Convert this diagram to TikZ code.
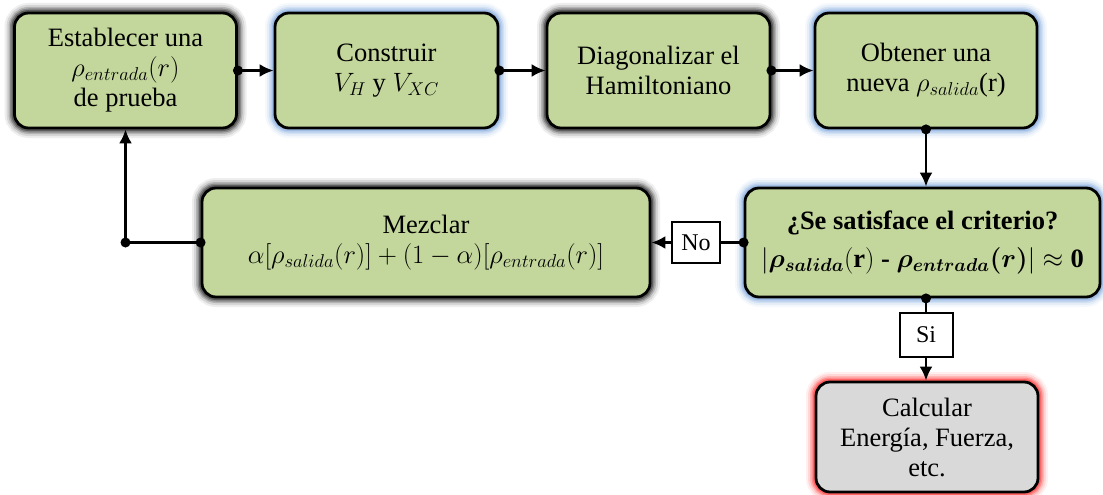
\RequirePackage{fix-cm}
\documentclass[tikz,border=0pt]{standalone}
\usepackage{amsmath}
\usepackage{fontspec}
\setmainfont{Liberation Serif}
\usetikzlibrary{arrows.meta}
\definecolor{boxgreen}{HTML}{C3D69B}
\definecolor{boxgray}{HTML}{D9D9D9}
\definecolor{glowblue}{HTML}{7FA7DC}
\definecolor{glowred}{HTML}{FF3030}
\definecolor{glowdark}{HTML}{282828}
\tikzset{
  glow/.style={
    preaction={draw=#1,line width=20pt,opacity=0.08},
    preaction={draw=#1,line width=16pt,opacity=0.12},
    preaction={draw=#1,line width=12pt,opacity=0.2},
    preaction={draw=#1,line width=9pt,opacity=0.3},
    preaction={draw=#1,line width=6pt,opacity=0.45}},
  procbox/.style={rectangle,rounded corners=14pt,draw=black,line width=2.8pt,
    fill=boxgreen,align=center,inner sep=0pt,minimum height=115pt,
    font=\fontsize{26.5}{30}\selectfont},
  labbox/.style={rectangle,draw=black,line width=2pt,fill=white,inner sep=0pt,
    font=\fontsize{24}{28}\selectfont},
  conn/.style={line width=2.6pt,-{Latex[length=14pt,width=13pt]}},
  plain/.style={line width=2.6pt},
  dot/.style={fill=black}
}
\begin{document}
\begin{tikzpicture}[x=1pt,y=-1pt]
\useasboundingbox (0,0) rectangle (1103,495);
% top row
\node[procbox,glow=glowdark,minimum width=222pt] (b1) at (125.5,70.5)
  {Establecer una\\ $\rho_{entrada}(r)$\\ de prueba};
\node[procbox,glow=glowblue,minimum width=223pt] (b2) at (386.5,70.5)
  {Construir\\ $V_H$ y $V_{XC}$};
\node[procbox,glow=glowdark,minimum width=223pt] (b3) at (658.5,70.5)
  {Diagonalizar el\\ Hamiltoniano};
\node[procbox,glow=glowblue,minimum width=222pt] (b4) at (926,70.5)
  {Obtener una\\ nueva $\rho_{salida}$(r)};
% middle row
\node[procbox,glow=glowdark,minimum width=448pt,minimum height=109pt] (mez) at (426,242.5)
  {Mezclar\\ $\alpha[\rho_{salida}(r)]+(1-\alpha)[\rho_{entrada}(r)]$};
\node[procbox,glow=glowblue,minimum width=355pt,minimum height=109pt,
  font=\fontsize{26.5}{36}\selectfont\bfseries] (crit) at (922.5,242.5)
  {¿Se satisface el criterio?\\[2pt] $\lvert\boldsymbol{\rho_{salida}}(\mathbf{r})\ \textbf{-}\ \boldsymbol{\rho_{entrada}(r)}\rvert\approx\mathbf{0}$};
% bottom
\node[procbox,glow=glowred,fill=boxgray,minimum width=222pt,minimum height=110pt] (calc) at (927,437)
  {Calcular\\ Energía, Fuerza,\\ etc.};
% labels
\node[labbox,minimum width=48pt,minimum height=41pt] (no) at (696,242.5) {No};
\node[labbox,minimum width=53pt,minimum height=44pt] (si) at (926,335) {Si};
% connectors
\draw[conn] (b1.east) -- (b2.west);
\draw[conn] (b2.east) -- (b3.west);
\draw[conn] (b3.east) -- (b4.west);
\draw[conn] (b4.south) -- (b4.south |- crit.north);
\draw[plain] (crit.west) -- (no.east);
\draw[conn] (no.west) -- (mez.east);
\coordinate (corner) at (b1.south |- mez.west);
\draw[plain] (mez.west) -- (corner);
\draw[conn] (corner) -- (b1.south);
\draw[plain] (b4.south |- crit.south) -- (si.north);
\draw[conn] (si.south) -- (calc.north -| si.south);
% dots
\foreach \p in {b1.east,b2.east,b3.east,b4.south,crit.west,mez.west,corner}
  \fill[dot] (\p) circle (5pt);
\fill[dot] (b4.south |- crit.south) circle (5pt);
\end{tikzpicture}
\end{document}
